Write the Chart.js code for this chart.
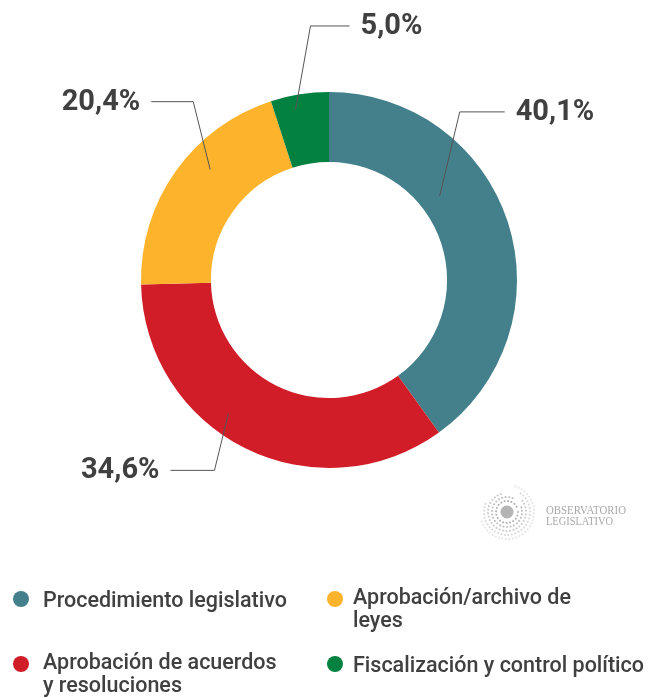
<!DOCTYPE html>
<html>
<head>
<meta charset="utf-8">
<script src="https://cdn.jsdelivr.net/npm/chart.js@4"></script>
<style>
  html, body { margin: 0; padding: 0; background: #fff; }
  #wrap { position: relative; width: 659px; height: 698px; }
</style>
</head>
<body>
<div id="wrap"><canvas id="donut"></canvas></div>
<script>
// data, clockwise from the top
const categories = [
    ["Procedimiento legislativo"],
    ["Aprobación de acuerdos", "y resoluciones"],
    ["Aprobación/archivo de", "leyes"],
    ["Fiscalización y control político"]
];
const shares = [40.1, 34.6, 20.4, 5.0];
const shareLabels = ["40,1%", "34,6%", "20,4%", "5,0%"];
const colors = ["#44808c", "#d11d27", "#fdb42c", "#028140"];

// callouts: where the leader starts inside the slice, then elbow + arm
const callouts = [
    {along: 0.366, radial: 0.30, dx: 20, dy: -84, arm: 45},
    {along: 0.585, radial: 0.70, dx: -14, dy: 57, arm: -44},
    {along: 0.603, radial: 0.63, dx: -17, dy: -68, arm: -42},
    {along: 0.380, radial: 0.79, dx: 15, dy: -84, arm: 39}
];

// legend grid (column-major)
const legendCols = [{dot: 21, text: 43}, {dot: 335, text: 353}];
const legendRows = [599, 664];

const textColor = "#404040";

const calloutPlugin = {
    id: "callouts",
    afterDatasetsDraw(chart) {
        const ctx = chart.ctx;
        const meta = chart.getDatasetMeta(0);
        ctx.save();
        meta.data.forEach((arc, i) => {
            const p = arc.getProps(["x", "y", "startAngle", "endAngle", "innerRadius", "outerRadius"], true);
            const c = callouts[i];
            const a = p.startAngle + (p.endAngle - p.startAngle) * c.along;
            const r = p.innerRadius + (p.outerRadius - p.innerRadius) * c.radial;
            const ax = p.x + Math.cos(a) * r, ay = p.y + Math.sin(a) * r;
            const ex = ax + c.dx, ey = ay + c.dy;
            const hx = ex + c.arm;

            ctx.strokeStyle = "#555";
            ctx.lineWidth = 1;
            ctx.beginPath();
            ctx.moveTo(ax, ay);
            ctx.lineTo(ex, ey);
            ctx.lineTo(hx, ey);
            ctx.stroke();

            const dir = c.arm > 0 ? 1 : -1;
            ctx.fillStyle = textColor;
            ctx.font = "bold 29px Roboto";
            ctx.textAlign = dir > 0 ? "left" : "right";
            ctx.textBaseline = "alphabetic";
            ctx.fillText(shareLabels[i], hx + dir * 11, ey + 8);
        });
        ctx.restore();
    },
    afterDraw(chart) {
        const ctx = chart.ctx;
        ctx.save();

        // legend
        categories.forEach((lines, i) => {
            const col = legendCols[Math.floor(i / 2)];
            const y = legendRows[i % 2];
            ctx.fillStyle = colors[i];
            ctx.beginPath();
            ctx.arc(col.dot, y, 8, 0, Math.PI * 2);
            ctx.fill();

            ctx.fillStyle = textColor;
            ctx.font = "500 21.5px Roboto";
            ctx.textAlign = "left";
            ctx.textBaseline = "alphabetic";
            const first = lines.length > 1 ? y + 4.5 : y + 8;
            lines.forEach((t, k) => ctx.fillText(t, col.text, first + k * 23.5));
        });

        // watermark logo
        const lx = 507, ly = 512;
        ctx.fillStyle = "#b4b4b4";
        ctx.beginPath();
        ctx.arc(lx, ly, 6.5, 0, Math.PI * 2);
        ctx.fill();
        const rings = [11, 15, 19, 23, 27];
        rings.forEach((rr, k) => {
            ctx.strokeStyle = "rgba(170,170,170," + (0.9 - k * 0.15) + ")";
            ctx.lineWidth = 2;
            ctx.lineCap = "round";
            ctx.setLineDash([0.1, 3.4]);
            ctx.beginPath();
            ctx.arc(lx, ly, rr, -Math.PI * 0.1 * k, Math.PI * (1.9 - 0.25 * k));
            ctx.stroke();
        });
        ctx.setLineDash([]);
        ctx.fillStyle = "#a8a8a8";
        ctx.font = "13px 'Liberation Serif'";
        ctx.textAlign = "left";
        [["OBSERVATORIO", 514, 80], ["LEGISLATIVO", 525, 67]].forEach(([t, by, w]) => {
            const m = ctx.measureText(t).width;
            ctx.save();
            ctx.translate(546, by);
            ctx.scale(w / m, 1);
            ctx.fillText(t, 0, 0);
            ctx.restore();
        });

        ctx.restore();
    }
};

new Chart(document.getElementById("donut").getContext("2d"), {
    type: "doughnut",
    data: {
        labels: categories.map(l => l.join(" ")),
        datasets: [{
            data: shares,
            backgroundColor: colors,
            borderWidth: 0
        }]
    },
    options: {
        responsive: true,
        maintainAspectRatio: false,
        animation: false,
        cutout: "62.8%",
        layout: {
            padding: {top: 92, bottom: 230, left: 141, right: 142}
        },
        plugins: {
            legend: {display: false},
            tooltip: {enabled: false}
        }
    },
    plugins: [calloutPlugin]
});
</script>
</body>
</html>
